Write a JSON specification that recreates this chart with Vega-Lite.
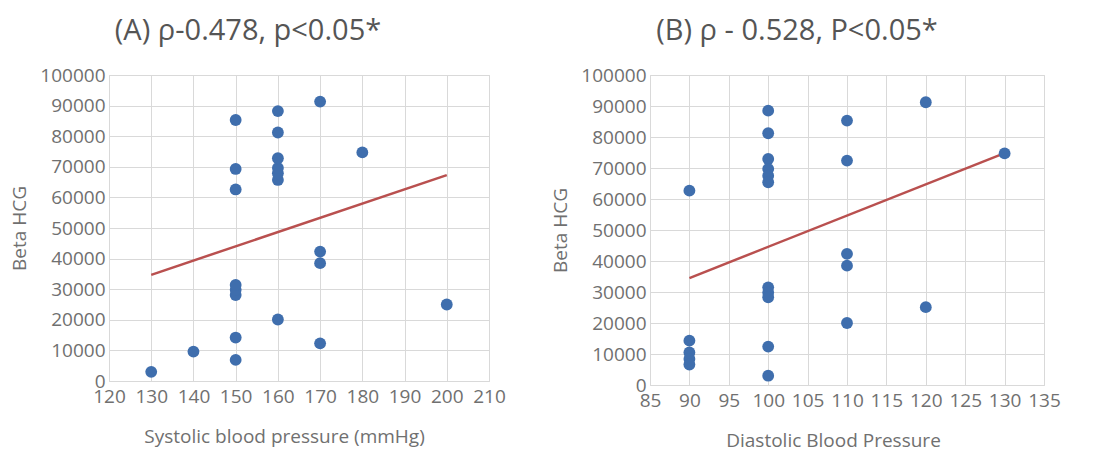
{
  "$schema": "https://vega.github.io/schema/vega-lite/v6.json",
  "background": "white",
  "padding": {"left": 10, "top": 16, "right": 5, "bottom": 5},
  "spacing": 45,
  "datasets": {
    "sbp": [
      {"sbp": 130, "hcg": 3000},
      {"sbp": 140, "hcg": 9600},
      {"sbp": 150, "hcg": 6900},
      {"sbp": 150, "hcg": 14200},
      {"sbp": 150, "hcg": 28100},
      {"sbp": 150, "hcg": 29800},
      {"sbp": 150, "hcg": 31400},
      {"sbp": 150, "hcg": 62600},
      {"sbp": 150, "hcg": 69300},
      {"sbp": 150, "hcg": 85300},
      {"sbp": 160, "hcg": 20100},
      {"sbp": 160, "hcg": 65700},
      {"sbp": 160, "hcg": 67900},
      {"sbp": 160, "hcg": 69600},
      {"sbp": 160, "hcg": 72800},
      {"sbp": 160, "hcg": 81200},
      {"sbp": 160, "hcg": 88200},
      {"sbp": 170, "hcg": 12300},
      {"sbp": 170, "hcg": 38500},
      {"sbp": 170, "hcg": 42300},
      {"sbp": 170, "hcg": 91300},
      {"sbp": 180, "hcg": 74700},
      {"sbp": 200, "hcg": 25000}
    ],
    "dbp": [
      {"dbp": 90, "hcg": 62700},
      {"dbp": 90, "hcg": 14300},
      {"dbp": 90, "hcg": 10500},
      {"dbp": 90, "hcg": 8400},
      {"dbp": 90, "hcg": 6600},
      {"dbp": 100, "hcg": 88500},
      {"dbp": 100, "hcg": 81200},
      {"dbp": 100, "hcg": 72900},
      {"dbp": 100, "hcg": 69700},
      {"dbp": 100, "hcg": 67500},
      {"dbp": 100, "hcg": 65400},
      {"dbp": 100, "hcg": 31500},
      {"dbp": 100, "hcg": 29800},
      {"dbp": 100, "hcg": 28300},
      {"dbp": 100, "hcg": 12400},
      {"dbp": 100, "hcg": 3000},
      {"dbp": 110, "hcg": 85300},
      {"dbp": 110, "hcg": 72400},
      {"dbp": 110, "hcg": 42300},
      {"dbp": 110, "hcg": 38500},
      {"dbp": 110, "hcg": 20000},
      {"dbp": 120, "hcg": 91200},
      {"dbp": 120, "hcg": 25100},
      {"dbp": 130, "hcg": 74700}
    ],
    "fitA": [
      {"sbp": 130, "hcg": 34700},
      {"sbp": 200, "hcg": 67300}
    ],
    "fitB": [
      {"dbp": 90, "hcg": 34500},
      {"dbp": 130, "hcg": 74800}
    ]
  },
  "hconcat": [
    {
      "title": {"text": "(A) ρ-0.478, p<0.05*", "dx": -51},
      "width": 380,
      "height": 306,
      "encoding": {
        "x": {
          "field": "sbp", "type": "quantitative",
          "scale": {"domain": [120, 210], "nice": false, "zero": false},
          "axis": {"values": [120, 130, 140, 150, 160, 170, 180, 190, 200, 210], "labelOverlap": false, "titleX": 175, "title": "Systolic blood pressure (mmHg)"}
        },
        "y": {
          "field": "hcg", "type": "quantitative",
          "scale": {"domain": [0, 100000], "nice": false},
          "axis": {"values": [0, 10000, 20000, 30000, 40000, 50000, 60000, 70000, 80000, 90000, 100000], "labelOverlap": false, "format": "d", "title": "Beta HCG"}
        }
      },
      "layer": [
        {
          "data": {"name": "fitA"},
          "mark": {"type": "line", "color": "#b9504f", "strokeWidth": 2.5}
        },
        {
          "data": {"name": "sbp"},
          "mark": {"type": "circle", "size": 140, "color": "#3f6ead", "opacity": 1}
        }
      ]
    },
    {
      "title": {"text": "(B) ρ - 0.528, P<0.05*", "dx": -50},
      "width": 394,
      "height": 310,
      "encoding": {
        "x": {
          "field": "dbp", "type": "quantitative",
          "scale": {"domain": [85, 135], "nice": false, "zero": false},
          "axis": {"values": [85, 90, 95, 100, 105, 110, 115, 120, 125, 130, 135], "labelOverlap": false, "titleX": 183, "title": "Diastolic Blood Pressure"}
        },
        "y": {
          "field": "hcg", "type": "quantitative",
          "scale": {"domain": [0, 100000], "nice": false},
          "axis": {"values": [0, 10000, 20000, 30000, 40000, 50000, 60000, 70000, 80000, 90000, 100000], "labelOverlap": false, "format": "d", "title": "Beta HCG"}
        }
      },
      "layer": [
        {
          "data": {"name": "fitB"},
          "mark": {"type": "line", "color": "#b9504f", "strokeWidth": 2.5}
        },
        {
          "data": {"name": "dbp"},
          "mark": {"type": "circle", "size": 140, "color": "#3f6ead", "opacity": 1}
        }
      ]
    }
  ],
  "config": {
    "font": "Open Sans",
    "view": {"stroke": "#d9d9d9", "strokeWidth": 1},
    "title": {"fontSize": 29, "fontWeight": "normal", "color": "#555555", "frame": "group", "anchor": "middle", "offset": 20},
    "axis": {
      "domain": false,
      "ticks": false,
      "grid": true,
      "gridColor": "#d9d9d9",
      "gridWidth": 1,
      "labelFontSize": 19,
      "labelColor": "#707070",
      "labelPadding": 4,
      "labelOverlap": false,
      "titleFontSize": 19,
      "titleFontWeight": "normal",
      "titleColor": "#707070"
    },
    "axisY": {"titlePadding": 10},
    "axisX": {"titlePadding": 21, "labelPadding": 6, "labelFlush": false}
  }
}
